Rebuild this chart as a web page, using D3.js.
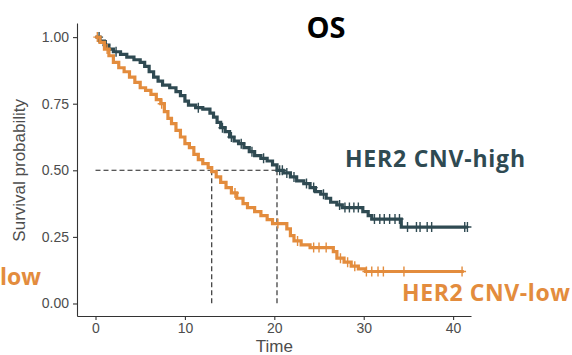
<!DOCTYPE html>
<html>
<head>
<meta charset="utf-8">
<script src="https://cdn.jsdelivr.net/npm/d3@7"></script>
<style>
  body { margin: 0; background: #fff; }
  .axis text { font-family: "Liberation Sans", Arial, sans-serif; font-size: 14px; fill: #4d4d4d; }
  .axis path, .axis line { stroke: #333; stroke-width: 1.1px; }
</style>
</head>
<body>
<div id="chart-area"></div>
<script>
// step points: time where the curve drops, survival after the drop
var highTime = [0, 0.5, 1.0, 1.5, 2.0, 2.8, 3.5, 4.3, 5.0, 5.5, 6.0, 6.5, 7.0, 7.5, 8.3, 9.0, 9.5, 10.0, 10.4, 11.2, 12.0, 12.8, 13.2, 13.6, 14.0, 14.5, 15.0, 15.5, 16.0, 16.6, 17.2, 17.8, 18.5, 19.2, 19.8, 20.3, 21.0, 21.8, 22.5, 23.3, 24.0, 24.6, 25.2, 25.8, 26.3, 27.0, 27.6, 29.9, 30.5, 30.9, 34.2]
var highSurv = [1.0, 0.985, 0.97, 0.955, 0.945, 0.935, 0.925, 0.915, 0.905, 0.89, 0.87, 0.85, 0.835, 0.82, 0.81, 0.795, 0.78, 0.76, 0.745, 0.735, 0.73, 0.715, 0.70, 0.68, 0.66, 0.645, 0.625, 0.61, 0.60, 0.585, 0.57, 0.555, 0.545, 0.535, 0.52, 0.50, 0.49, 0.475, 0.46, 0.45, 0.435, 0.42, 0.41, 0.395, 0.38, 0.37, 0.36, 0.345, 0.33, 0.317, 0.287]
var highEnd = 41.6
var highCens = [0.4, 1.2, 2.3, 11.5, 14.2, 15.2, 16.3, 17.5, 18.8, 20.6, 20.9, 21.4, 22.2, 23.6, 24.4, 25.5, 27.3, 27.9, 28.4, 28.9, 29.4, 31.2, 31.8, 32.3, 32.9, 33.5, 34.0, 34.9, 35.9, 36.3, 37.1, 37.6, 41.3, 41.6]

var lowTime = [0, 0.5, 1.0, 1.5, 2.0, 2.6, 3.2, 3.8, 4.4, 5.0, 5.6, 6.2, 6.8, 7.3, 7.7, 8.1, 8.5, 9.0, 9.5, 10.0, 10.5, 11.0, 11.5, 12.0, 12.6, 13.0, 13.5, 14.0, 14.6, 15.2, 15.8, 16.5, 17.0, 17.8, 18.5, 19.2, 19.8, 21.4, 21.8, 22.2, 23.0, 24.0, 26.6, 27.0, 27.8, 28.6, 29.4, 30.2]
var lowSurv = [1.0, 0.98, 0.955, 0.93, 0.905, 0.885, 0.87, 0.85, 0.83, 0.81, 0.80, 0.785, 0.765, 0.75, 0.72, 0.695, 0.675, 0.65, 0.625, 0.60, 0.585, 0.56, 0.54, 0.525, 0.51, 0.495, 0.475, 0.455, 0.435, 0.415, 0.395, 0.375, 0.36, 0.345, 0.33, 0.315, 0.30, 0.28, 0.255, 0.235, 0.22, 0.21, 0.195, 0.17, 0.155, 0.14, 0.13, 0.12]
var lowEnd = 41.2
var lowCens = [0.2, 1.3, 7.4, 15.6, 20.4, 22.6, 24.4, 25.0, 25.8, 27.4, 28.2, 29.0, 30.3, 30.9, 31.6, 32.2, 34.5, 41.0]

var medianTimes = [13.0, 20.3]

var xTicks = [0, 10, 20, 30, 40]
var yTicks = [0, 0.25, 0.5, 0.75, 1]

var cHigh = "#2f4a52"
var cLow = "#e38c3d"

var cw = 572, ch = 355

var svg = d3.select("#chart-area").append("svg")
    .attr("width", cw)
    .attr("height", ch)

var x = d3.scaleLinear().domain([-2.07, 42.0]).range([77, 471])
var y = d3.scaleLinear().domain([-0.047, 1.053]).range([316, 23])

// axes
svg.append("g")
    .attr("class", "axis")
    .attr("transform", "translate(0,316)")
    .call(d3.axisBottom(x).tickValues(xTicks).tickSize(4).tickPadding(3).tickSizeOuter(0))

svg.append("g")
    .attr("class", "axis")
    .attr("transform", "translate(77,0)")
    .call(d3.axisLeft(y).tickValues(yTicks).tickFormat(d3.format(".2f")).tickSize(4).tickPadding(4).tickSizeOuter(0))

svg.append("text")
    .attr("transform", "translate(25," + y(0.5) + ") rotate(-90)")
    .attr("text-anchor", "middle")
    .attr("font-family", "Liberation Sans, Arial, sans-serif")
    .attr("font-size", "17px")
    .attr("fill", "#4d4d4d")
    .text("Survival probability")

svg.append("text")
    .attr("x", x(20))
    .attr("y", 352)
    .attr("text-anchor", "middle")
    .attr("font-family", "Liberation Sans, Arial, sans-serif")
    .attr("font-size", "17px")
    .attr("fill", "#4d4d4d")
    .text("Time")

// step function lookup
function survAt(times, surv, t) {
    var i = d3.bisectRight(times, t) - 1
    return surv[Math.max(i, 0)]
}

function stepPoints(times, surv, end) {
    var pts = times.map((t, i) => [t, surv[i]])
    pts.push([end, surv[surv.length - 1]])
    return pts
}

var line = d3.line()
    .x(d => x(d[0]))
    .y(d => y(d[1]))
    .curve(d3.curveStepAfter)

// median lines
var dash = svg.append("g")
    .attr("stroke", "#222")
    .attr("stroke-width", 1.1)
    .attr("stroke-dasharray", "5,3")
    .attr("fill", "none")

dash.append("line")
    .attr("x1", x(0)).attr("x2", x(d3.max(medianTimes)))
    .attr("y1", y(0.5)).attr("y2", y(0.5))

dash.selectAll(".vmed")
    .data(medianTimes)
    .enter().append("line")
    .attr("class", "vmed")
    .attr("x1", d => x(d)).attr("x2", d => x(d))
    .attr("y1", y(0.5)).attr("y2", y(0))

var groups = [
    {times: highTime, surv: highSurv, end: highEnd, cens: highCens, color: cHigh},
    {times: lowTime, surv: lowSurv, end: lowEnd, cens: lowCens, color: cLow}
]

groups.forEach(gr => {
    svg.append("path")
        .attr("d", line(stepPoints(gr.times, gr.surv, gr.end)))
        .attr("fill", "none")
        .attr("stroke", gr.color)
        .attr("stroke-width", 3.2)

    svg.selectAll(null)
        .data(gr.cens)
        .enter().append("path")
        .attr("d", d => {
            var px = x(d), py = y(survAt(gr.times, gr.surv, d))
            return "M" + (px - 4) + "," + py + "H" + (px + 4) + "M" + px + "," + (py - 5) + "V" + (py + 5)
        })
        .attr("stroke", gr.color)
        .attr("stroke-width", 1.4)
        .attr("fill", "none")
})

// title and group labels
svg.append("text")
    .attr("x", 326)
    .attr("y", 38)
    .attr("text-anchor", "middle")
    .attr("font-family", "Open Sans, sans-serif")
    .attr("font-weight", "bold")
    .attr("font-size", "29px")
    .attr("fill", "#000")
    .text("OS")

svg.append("text")
    .attr("x", 345)
    .attr("y", 167)
    .attr("font-family", "Open Sans, sans-serif")
    .attr("font-weight", "bold")
    .attr("font-size", "23px")
    .attr("textLength", 180)
    .attr("fill", cHigh)
    .text("HER2 CNV-high")

svg.append("text")
    .attr("x", 402)
    .attr("y", 301)
    .attr("font-family", "Open Sans, sans-serif")
    .attr("font-weight", "bold")
    .attr("font-size", "23px")
    .attr("textLength", 168)
    .attr("fill", cLow)
    .text("HER2 CNV-low")

// the left label is cropped in the reference, only its end shows
svg.append("text")
    .attr("x", 0)
    .attr("y", 285)
    .attr("font-family", "Open Sans, sans-serif")
    .attr("font-weight", "bold")
    .attr("font-size", "23px")
    .attr("fill", cLow)
    .text("low")
</script>
</body>
</html>
